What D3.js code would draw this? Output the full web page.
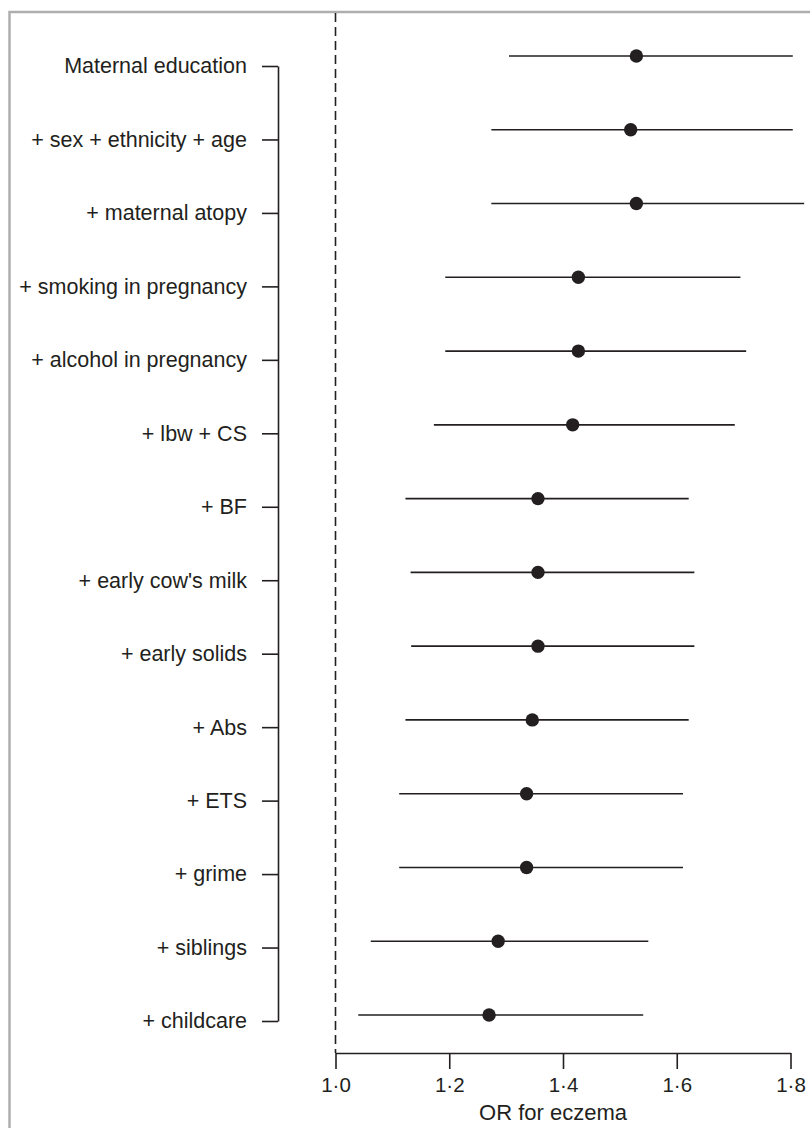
<!DOCTYPE html>
<html>
<head>
<meta charset="utf-8">
<script src="https://cdn.jsdelivr.net/npm/d3@7"></script>
<style>
  html, body { margin: 0; padding: 0; background: #fff; }
  svg { display: block; font-family: "Liberation Sans", Arial, Helvetica, sans-serif; }
</style>
</head>
<body>
<svg id="svg" width="810" height="1128"></svg>
<script>
// --- Data ------------------------------------------------------------------
const labels = [
  "Maternal education", "+ sex + ethnicity + age", "+ maternal atopy",
  "+ smoking in pregnancy", "+ alcohol in pregnancy", "+ lbw + CS", "+ BF",
  "+ early cow's milk", "+ early solids", "+ Abs", "+ ETS", "+ grime",
  "+ siblings", "+ childcare"
];
const orValues = [1.529, 1.519, 1.529, 1.427, 1.427, 1.417, 1.356, 1.356, 1.356, 1.346, 1.336, 1.336, 1.286, 1.27];
const lowerCI  = [1.305, 1.274, 1.274, 1.193, 1.193, 1.173, 1.123, 1.132, 1.133, 1.123, 1.112, 1.112, 1.062, 1.04];
const upperCI  = [1.804, 1.804, 1.824, 1.712, 1.722, 1.702, 1.621, 1.631, 1.631, 1.621, 1.611, 1.611, 1.55, 1.541];
const xTicks = [1.0, 1.2, 1.4, 1.6, 1.8];

const rows = labels.map((l, i) => ({ label: l, or: orValues[i], lo: lowerCI[i], hi: upperCI[i] }));
const ink = "#231f20";

// --- Chart -----------------------------------------------------------------
const svg = d3.select("#svg");

// outer frame
svg.append("rect")
  .attr("x", 9.5).attr("y", 12)
  .attr("width", 830).attr("height", 1140)
  .attr("fill", "none").attr("stroke", "#aeaeae").attr("stroke-width", 2.5);

const x = d3.scaleLinear().domain([1.0, 1.8]).range([335.5, 790.5]);
const yPt = d3.scalePoint().domain(labels).range([56, 1015]);   // marks
const yLab = d3.scalePoint().domain(labels).range([66, 1021]);  // label axis

// reference line at OR = 1
svg.append("line")
  .attr("x1", x(1)).attr("x2", x(1))
  .attr("y1", 13).attr("y2", 1053)
  .attr("stroke", ink).attr("stroke-width", 1.6)
  .attr("stroke-dasharray", "9,5");

// left label axis
const yAxis = svg.append("g")
  .attr("transform", "translate(278,0)")
  .call(d3.axisLeft(yLab).tickSize(16).tickSizeOuter(0).tickPadding(15));
yAxis.select(".domain").attr("stroke", ink).attr("stroke-width", 1.6);
yAxis.selectAll(".tick line").attr("stroke", ink).attr("stroke-width", 1.6);
yAxis.selectAll(".tick text")
  .attr("fill", ink).attr("font-size", 21.5)
  .attr("font-family", "Liberation Sans, Arial, sans-serif")
  .attr("dy", "0.32em");

// bottom axis
const xAxis = svg.append("g")
  .attr("transform", "translate(0,1053)")
  .call(d3.axisBottom(x).tickValues(xTicks).tickSize(16).tickSizeOuter(0).tickPadding(8)
    .tickFormat(d => d3.format(".1f")(d).replace(".", "\u00b7")));
xAxis.select(".domain").attr("stroke", ink).attr("stroke-width", 1.6);
xAxis.selectAll(".tick line").attr("stroke", ink).attr("stroke-width", 1.6);
xAxis.selectAll(".tick text")
  .attr("fill", ink).attr("font-size", 20.5)
  .attr("font-family", "Liberation Sans, Arial, sans-serif");

svg.append("text")
  .attr("x", 553).attr("y", 1120)
  .attr("text-anchor", "middle")
  .attr("fill", ink).attr("font-size", 22)
  .text("OR for eczema");

// CI lines
svg.append("g").selectAll("line")
  .data(rows).enter()
  .append("line")
  .attr("x1", d => x(d.lo)).attr("x2", d => x(d.hi))
  .attr("y1", d => yPt(d.label)).attr("y2", d => yPt(d.label))
  .attr("stroke", ink).attr("stroke-width", 1.6);

// point estimates
svg.append("g").selectAll("circle")
  .data(rows).enter()
  .append("circle")
  .attr("cx", d => x(d.or)).attr("cy", d => yPt(d.label))
  .attr("r", 6.7)
  .attr("fill", ink);
</script>
</body>
</html>
